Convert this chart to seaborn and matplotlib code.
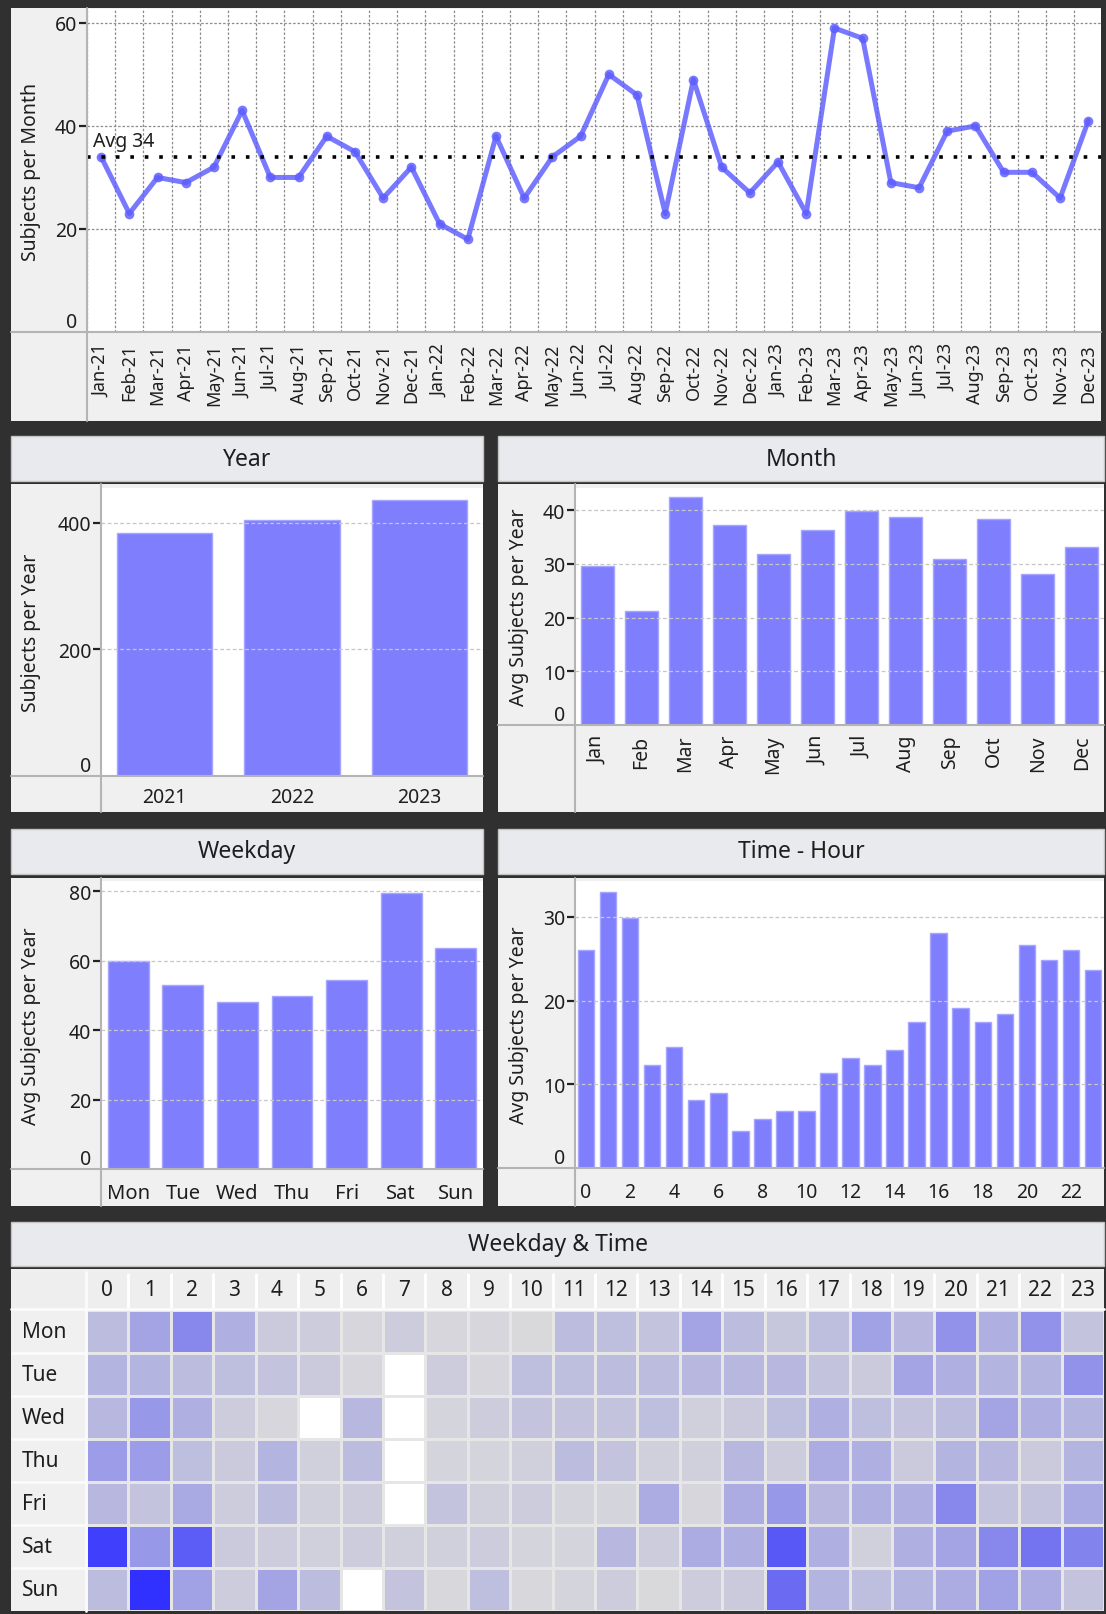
"""
Subject activity dashboard: monthly trend, yearly / monthly / weekday / hourly
bars and a weekday x hour heatmap, laid out as light panels on a dark frame.
"""

import numpy as np
import pandas as pd
import matplotlib
matplotlib.use("Agg")
import matplotlib.pyplot as plt
import seaborn as sns
from matplotlib.patches import Rectangle
from matplotlib.lines import Line2D
from matplotlib.colors import LinearSegmentedColormap

# ---- data -----------------------------------------------------------------
month_labels = [
    "Jan-21", "Feb-21", "Mar-21", "Apr-21", "May-21", "Jun-21", "Jul-21", "Aug-21", "Sep-21", "Oct-21", "Nov-21", "Dec-21",
    "Jan-22", "Feb-22", "Mar-22", "Apr-22", "May-22", "Jun-22", "Jul-22", "Aug-22", "Sep-22", "Oct-22", "Nov-22", "Dec-22",
    "Jan-23", "Feb-23", "Mar-23", "Apr-23", "May-23", "Jun-23", "Jul-23", "Aug-23", "Sep-23", "Oct-23", "Nov-23", "Dec-23",
]
monthly_subjects = [
    34, 23, 30, 29, 32, 43, 30, 30, 38, 35, 26, 32,
    21, 18, 38, 26, 34, 38, 50, 46, 23, 49, 32, 27,
    33, 23, 59, 57, 29, 28, 39, 40, 31, 31, 26, 41,
]
avg_monthly = 34

years = ["2021", "2022", "2023"]
year_totals = [384, 404, 436]

months = ["Jan", "Feb", "Mar", "Apr", "May", "Jun", "Jul", "Aug", "Sep", "Oct", "Nov", "Dec"]
month_avg = [29.5, 21.2, 42.4, 37.3, 31.9, 36.3, 39.8, 38.7, 30.8, 38.4, 28.1, 33.2]

weekdays = ["Mon", "Tue", "Wed", "Thu", "Fri", "Sat", "Sun"]
weekday_avg = [59.8, 53.0, 48.2, 49.9, 54.5, 79.4, 63.6]

hours = ["0", "1", "2", "3", "4", "5", "6", "7", "8", "9", "10", "11",
         "12", "13", "14", "15", "16", "17", "18", "19", "20", "21", "22", "23"]
hour_avg = [26.1, 33.0, 29.9, 12.3, 14.5, 8.1, 9.0, 4.4, 5.9, 6.8, 6.8, 11.4,
            13.1, 12.3, 14.1, 17.4, 28.1, 19.1, 17.4, 18.4, 26.6, 24.8, 26.1, 23.7]

nan = np.nan
heat_mon = [3.0, 4.5, 6.0, 3.8, 2.0, 1.8, 1.0, 1.8, 1.0, 1.0, 0.5, 3.0, 2.8, 2.5, 4.5, 3.0, 2.3, 2.8, 4.7, 3.3, 5.5, 3.8, 5.5, 2.5]
heat_tue = [3.5, 3.5, 3.0, 2.8, 2.5, 2.0, 1.0, nan, 1.8, 1.0, 2.8, 2.8, 3.0, 3.0, 3.3, 3.3, 3.3, 2.5, 2.0, 4.5, 3.8, 3.5, 3.5, 5.5]
heat_wed = [3.3, 5.2, 3.8, 1.8, 1.0, nan, 3.3, nan, 1.2, 1.8, 2.5, 2.5, 2.5, 2.8, 1.5, 2.0, 2.8, 3.8, 2.8, 2.5, 3.0, 4.5, 3.8, 3.5]
heat_thu = [5.0, 5.0, 2.8, 2.0, 3.5, 1.5, 3.0, nan, 1.2, 1.2, 1.5, 3.0, 2.5, 1.5, 1.5, 3.3, 1.8, 4.0, 3.8, 2.0, 3.5, 3.3, 2.0, 3.5]
heat_fri = [3.3, 2.5, 4.2, 1.8, 3.0, 1.5, 1.8, nan, 2.5, 1.5, 1.8, 1.2, 1.2, 4.0, 1.0, 4.0, 5.2, 3.3, 3.8, 3.8, 6.0, 2.5, 2.5, 4.2]
heat_sat = [9.2, 5.2, 7.8, 2.0, 1.8, 1.5, 1.8, 1.5, 1.5, 1.8, 1.2, 1.2, 3.3, 1.8, 4.0, 3.8, 8.0, 3.8, 1.5, 3.8, 4.5, 6.0, 6.8, 6.2]
heat_sun = [3.0, 10.0, 4.7, 1.8, 4.5, 3.0, nan, 2.5, 0.8, 2.8, 0.8, 1.2, 1.8, 0.5, 1.8, 2.0, 7.2, 3.5, 2.8, 3.5, 4.0, 4.7, 4.0, 2.5]

# ---- style ----------------------------------------------------------------
W, H = 1106, 1615
DARK = "#303030"
BODY = "#f0f0f0"
HEAD = "#e9eaed"
SEP = "#b4b4b4"
TXT = "#1e1e1e"
BAR = "#7f7ffe"
BAR_EDGE = "#a6a6ff"
LINE = "#5c5cff"

sns.set_theme(style="white")
plt.rcParams["font.family"] = ["Noto Sans", "DejaVu Sans"]
plt.rcParams["text.color"] = TXT
plt.rcParams["axes.labelcolor"] = TXT
plt.rcParams["xtick.color"] = TXT
plt.rcParams["ytick.color"] = TXT


def frac(x0, y0, x1, y1):
    # pixel box (top-left origin) -> figure fraction [left, bottom, width, height]
    return [x0 / W, 1 - y1 / H, (x1 - x0) / W, (y1 - y0) / H]


def rect(fig, x0, y0, x1, y1, fc, ec=None, lw=0.0):
    fig.add_artist(Rectangle((x0 / W, 1 - y1 / H), (x1 - x0) / W, (y1 - y0) / H,
                             transform=fig.transFigure, facecolor=fc,
                             edgecolor=ec if ec else fc, lw=lw, zorder=-2))


def hline(fig, x0, x1, y, color=SEP, lw=1.5):
    fig.add_artist(Line2D([x0 / W, x1 / W], [1 - y / H] * 2, transform=fig.transFigure,
                          color=color, lw=lw, zorder=5))


def vline(fig, x, y0, y1, color=SEP, lw=1.5):
    fig.add_artist(Line2D([x / W] * 2, [1 - y0 / H, 1 - y1 / H], transform=fig.transFigure,
                          color=color, lw=lw, zorder=5))


def header(fig, x0, y0, x1, y1, title):
    rect(fig, x0, y0, x1, y1, HEAD, ec="#c4c4c4", lw=1.0)
    fig.text((x0 + x1) / 2 / W, 1 - (y0 + y1) / 2 / H, title, ha="center", va="center",
             fontsize=16.5, color=TXT)


def style_y(ax, ticks, top, label, box, label_right_px, grid_color="#c6c6c6"):
    ax.set_ylim(0, top)
    ax.set_yticks(ticks)
    ax.tick_params(axis="y", left=True, direction="out", length=6, width=1.6,
                   color="#222222", labelsize=14, pad=1)
    t0 = ax.yaxis.get_major_ticks()[0]
    t0.tick1line.set_visible(False)
    t0.label1.set_va("bottom")
    ax.set_ylabel(label, fontsize=14)
    x0, _, x1, _ = box
    ax.yaxis.set_label_coords((label_right_px - x0) / (x1 - x0), 0.5)
    ax.grid(True, axis="y", color=grid_color, ls=(0, (3, 2)), lw=0.9)
    ax.set_axisbelow(False)
    for s in ax.spines.values():
        s.set_visible(False)
    ax.set_facecolor("white")


def bar_panel(fig, box, cats, vals, top, ticks, label, label_right_px, rot=0, xfont=14, xpad=6):
    ax = fig.add_axes(frac(*box))
    sns.barplot(x=cats, y=vals, ax=ax, color=BAR, saturation=1, width=0.75,
                edgecolor=BAR_EDGE, linewidth=1.0)
    style_y(ax, ticks, top, label, box, label_right_px)
    ax.set_xlabel("")
    ax.tick_params(axis="x", bottom=False, length=0, labelsize=xfont, pad=xpad, labelrotation=rot)
    return ax


fig = plt.figure(figsize=(W / 100, H / 100), dpi=100)
fig.patch.set_facecolor(DARK)

# ---- monthly trend --------------------------------------------------------
top_box = (87, 10, 1101, 333)
rect(fig, 11, 9, 1101, 422, BODY)
ax1 = fig.add_axes(frac(*top_box))
sns.lineplot(x=month_labels, y=monthly_subjects, ax=ax1, sort=False, color=LINE, alpha=0.82,
             linewidth=3.6, marker="o", markersize=7, markeredgewidth=0)
ax1.axhline(avg_monthly, color="black", lw=2.6, ls=(0, (1, 3)), zorder=3)
ax1.text(-0.3, avg_monthly + 1.2, f"Avg {avg_monthly}", fontsize=14, va="bottom", ha="left")
style_y(ax1, [0, 20, 40, 60], 62.7, "Subjects per Month", top_box, 41, grid_color="#8c8c8c")
ax1.grid(True, axis="y", color="#8c8c8c", ls=(0, (2, 1.5)), lw=0.9)
ax1.set_xticks(np.arange(-0.5, 36, 1), minor=True)
ax1.grid(True, axis="x", which="minor", color="#8c8c8c", ls=(0, (2, 1.5)), lw=0.9)
ax1.set_axisbelow(True)
ax1.set_xlim(-0.5, 35.45)
ax1.set_xlabel("")
ax1.tick_params(axis="x", which="both", bottom=False, length=0, labelsize=13, pad=8, labelrotation=90)
vline(fig, 87, 9, 422)
hline(fig, 11, 1101, 333)

# ---- year -----------------------------------------------------------------
header(fig, 11, 437, 483, 482, "Year")
rect(fig, 11, 485, 483, 813, BODY)
bar_panel(fig, (101, 489, 483, 777), years, year_totals, 455, [0, 200, 400],
          "Subjects per Year", 41, xpad=8)
vline(fig, 101, 485, 813)
hline(fig, 11, 483, 777)

# ---- month ----------------------------------------------------------------
header(fig, 498, 437, 1104, 482, "Month")
rect(fig, 498, 485, 1104, 813, BODY)
bar_panel(fig, (575, 489, 1104, 726), months, month_avg, 44.1, [0, 10, 20, 30, 40],
          "Avg Subjects per Year", 529, rot=90, xpad=7)
vline(fig, 575, 485, 813)
hline(fig, 498, 1104, 726)

# ---- weekday --------------------------------------------------------------
header(fig, 11, 830, 483, 875, "Weekday")
rect(fig, 11, 879, 483, 1207, BODY)
bar_panel(fig, (101, 882, 483, 1170), weekdays, weekday_avg, 82.9, [0, 20, 40, 60, 80],
          "Avg Subjects per Year", 41, xfont=14.5, xpad=10)
vline(fig, 101, 879, 1207)
hline(fig, 11, 483, 1170)

# ---- hour -----------------------------------------------------------------
header(fig, 498, 830, 1104, 875, "Time - Hour")
rect(fig, 498, 879, 1104, 1207, BODY)
ax5 = bar_panel(fig, (575, 882, 1104, 1169), hours, hour_avg, 34.3, [0, 10, 20, 30],
                "Avg Subjects per Year", 529, xpad=10)
ax5.set_xticks(range(0, 24, 2))
ax5.set_xticklabels(hours[::2])
vline(fig, 575, 879, 1207)
hline(fig, 498, 1104, 1169)

# ---- weekday x hour heatmap ----------------------------------------------
header(fig, 11, 1223, 1104, 1267, "Weekday & Time")
rect(fig, 11, 1270, 1104, 1612, BODY)
heat = pd.DataFrame([heat_mon, heat_tue, heat_wed, heat_thu, heat_fri, heat_sat, heat_sun],
                    index=weekdays, columns=hours)
cmap = LinearSegmentedColormap.from_list("subj", [
    (0.0, "#dcdcdc"), (0.1, "#d6d6dc"), (0.2, "#cacadc"), (0.35, "#b4b4e0"),
    (0.5, "#9c9ce8"), (0.6, "#8888ec"), (0.78, "#5c5cf6"), (1.0, "#3030ff")])
hbox = (86, 1311, 1104, 1612)
hax = fig.add_axes(frac(*hbox))
hax.set_facecolor("white")
sns.heatmap(heat, ax=hax, cmap=cmap, vmin=0, vmax=10, cbar=False,
            linewidths=2, linecolor="#e6e6e6")
hax.xaxis.tick_top()
hax.tick_params(axis="x", top=False, bottom=False, labeltop=True, labelbottom=False,
                length=0, pad=7, labelsize=15)
hax.tick_params(axis="y", left=False, length=0, labelsize=15, pad=46)
for lab in hax.get_yticklabels():
    lab.set_rotation(0)
    lab.set_ha("left")
hax.set_xlabel("")
hax.set_ylabel("")
# column-header strip and row-label separators
row_h = (hbox[3] - hbox[1]) / len(weekdays)
col_w = (hbox[2] - hbox[0]) / len(hours)
rect(fig, 11, 1273, 1104, 1310, "#eeeeee")
hax.vlines(np.arange(1, len(hours)), -37 / row_h, -0.02, colors="white", lw=2, clip_on=False)
hax.hlines(np.arange(1, len(weekdays)), -75 / col_w, -0.03, colors="#fbfbfb", lw=2, clip_on=False)
hline(fig, 11, 1104, 1310, color="#fbfbfb", lw=2)
vline(fig, 86, 1273, 1612, color="#fbfbfb", lw=2)

fig.savefig("out.png", dpi=100, facecolor=DARK)
